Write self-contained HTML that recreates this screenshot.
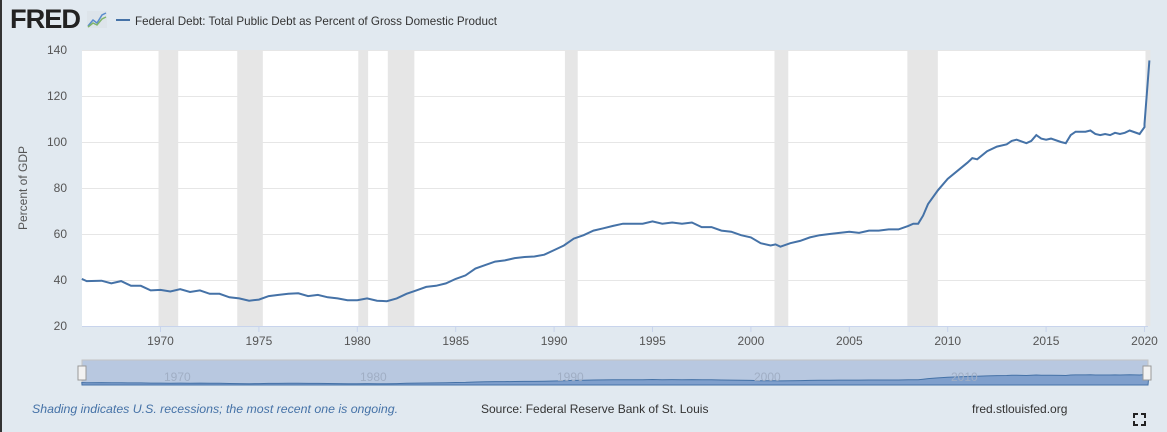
<!DOCTYPE html>
<html><head><meta charset="utf-8"><style>
body{margin:0;width:1167px;height:432px;background:#e1e9f0;font-family:"Liberation Sans",sans-serif;overflow:hidden;position:relative}
#lb{position:absolute;left:0;top:0;width:2px;height:432px;background:#333}
svg{position:absolute;left:0;top:0}
</style></head><body>
<svg width="1167" height="432" id="s">
<text x="10" y="28" font-size="27" font-weight="bold" fill="#222" letter-spacing="-1" textLength="70" lengthAdjust="spacingAndGlyphs">FRED</text>
<rect x="87" y="11" width="20" height="17" fill="#dde4ea"/>
<polyline points="88,26 93,20 97,23 102,15 106,13" fill="none" stroke="#5a8ccc" stroke-width="1.5"/>
<polyline points="88,27 93,23 97,25 102,19 106,17" fill="none" stroke="#7fb56a" stroke-width="1.5"/>
<line x1="116" y1="20" x2="130" y2="20" stroke="#4572a7" stroke-width="2"/>
<text x="135" y="25" font-size="12" fill="#333" textLength="362" lengthAdjust="spacingAndGlyphs">Federal Debt: Total Public Debt as Percent of Gross Domestic Product</text>
<rect x="82" y="50" width="1066" height="276" fill="#fff"/>
<g id="rec" fill="#e6e6e6"></g>
<g id="grid" stroke="#e6e6e6" stroke-width="1"></g>
<line x1="82" y1="326.5" x2="1148" y2="326.5" stroke="#c8d4ec"/>
<g id="yl" font-size="12" fill="#555" text-anchor="end"></g>
<g id="xl" font-size="12" fill="#555" text-anchor="middle"></g>
<text transform="translate(27,188) rotate(-90)" font-size="12" fill="#555" text-anchor="middle">Percent of GDP</text>
<path id="ln" fill="none" stroke="#4572a7" stroke-width="2"/>
<rect x="82" y="360" width="1066" height="25" fill="#b8c8e0" stroke="#c4c4c4"/>
<path id="nav" fill="#7f9fcc" stroke="#4572a7" stroke-width="1"/>
<g font-size="12" fill="#a0aec4"><text x="164" y="381">1970</text><text x="360" y="381">1980</text><text x="557" y="381">1990</text><text x="754" y="381">2000</text><text x="951" y="381">2010</text></g>
<rect x="78" y="366" width="8" height="14" fill="#f2f2f2" stroke="#999"/>
<rect x="1143" y="366" width="8" height="14" fill="#f2f2f2" stroke="#999"/>
<text x="32" y="413" font-size="12" font-style="italic" fill="#4572a7" textLength="366" lengthAdjust="spacingAndGlyphs">Shading indicates U.S. recessions; the most recent one is ongoing.</text>
<text x="481" y="413" font-size="12" fill="#333">Source: Federal Reserve Bank of St. Louis</text>
<text x="972" y="413" font-size="12" fill="#333">fred.stlouisfed.org</text>
<path d="M1134,418v-4h4M1141,414h4v4M1145,421v4h-4M1138,425h-4v-4" fill="none" stroke="#222" stroke-width="2"/>
</svg>
<div id="lb"></div>
<script>
var X=y=>160.5+(y-1970)*19.68, Y=v=>326-(v-20)*2.3;
var ns="http://www.w3.org/2000/svg";
function el(p,t,a,tx){var e=document.createElementNS(ns,t);for(var k in a)e.setAttribute(k,a[k]);if(tx)e.textContent=tx;document.getElementById(p).appendChild(e);}
[[1969.9,1970.9],[1973.9,1975.2],[1980.05,1980.55],[1981.55,1982.9],[1990.55,1991.2],[2001.2,2001.9],[2007.95,2009.5],[2020.05,2020.3]].forEach(r=>el("rec","rect",{x:X(r[0]),y:50,width:X(r[1])-X(r[0]),height:276}));
for(var v=40;v<=140;v+=20){el("grid","line",{x1:82,x2:1148,y1:Y(v)+.5,y2:Y(v)+.5});}
for(var v=20;v<=140;v+=20)el("yl","text",{x:67,y:Y(v)+4},v);
for(var yr=1970;yr<=2020;yr+=5){el("xl","text",{x:X(yr),y:345},yr);el("grid","line",{x1:X(yr),x2:X(yr),y1:326,y2:332,stroke:"#c8d4ec"});}
var d=[1966,40.5,1966.25,39.5,1967,39.7,1967.5,38.5,1968,39.5,1968.5,37.5,1969,37.5,1969.5,35.5,1970,35.7,1970.5,35,1971,36,1971.5,34.8,1972,35.5,1972.5,34,1973,34,1973.5,32.5,1974,32,1974.5,31,1975,31.5,1975.5,33,1976,33.5,1976.5,34,1977,34.2,1977.5,33,1978,33.5,1978.5,32.5,1979,32,1979.5,31.2,1980,31.2,1980.5,32,1981,31,1981.5,30.8,1982,32,1982.5,34,1983,35.5,1983.5,37,1984,37.5,1984.5,38.5,1985,40.5,1985.5,42,1986,45,1986.5,46.5,1987,48,1987.5,48.5,1988,49.5,1988.5,50,1989,50.2,1989.5,51,1990,53,1990.5,55,1991,58,1991.5,59.5,1992,61.5,1992.5,62.5,1993,63.5,1993.5,64.5,1994,64.5,1994.5,64.5,1995,65.5,1995.5,64.5,1996,65,1996.5,64.5,1997,65,1997.5,63,1998,63,1998.5,61.5,1999,61,1999.5,59.5,2000,58.5,2000.5,56,2001,55,2001.25,55.5,2001.5,54.5,2002,56,2002.5,57,2003,58.5,2003.5,59.5,2004,60,2004.5,60.5,2005,61,2005.5,60.5,2006,61.5,2006.5,61.5,2007,62,2007.5,62,2008,63.5,2008.25,64.5,2008.5,64.5,2008.75,68,2009,73,2009.5,79,2010,84,2010.5,87.5,2011,91,2011.25,93,2011.5,92.5,2012,96,2012.5,98,2013,99,2013.25,100.5,2013.5,101,2014,99.5,2014.25,100.5,2014.5,103,2014.75,101.5,2015,101,2015.25,101.5,2015.75,100,2016,99.5,2016.25,103,2016.5,104.5,2017,104.5,2017.25,105,2017.5,103.5,2017.75,103,2018,103.5,2018.25,103,2018.5,104,2018.75,103.5,2019,104,2019.25,105,2019.75,103.5,2020,106.5,2020.0,107.8,2020.25,135.5];
var p="",q="";for(var i=0;i<d.length;i+=2){var x=X(d[i]).toFixed(1);p+=(i?"L":"M")+x+","+Y(d[i+1]).toFixed(1);q+="L"+x+","+(385-(d[i+1]-20)*0.12).toFixed(1);}
document.getElementById("ln").setAttribute("d",p);
document.getElementById("nav").setAttribute("d","M82,385"+q+"L1148,385Z");
</script>
</body></html>
